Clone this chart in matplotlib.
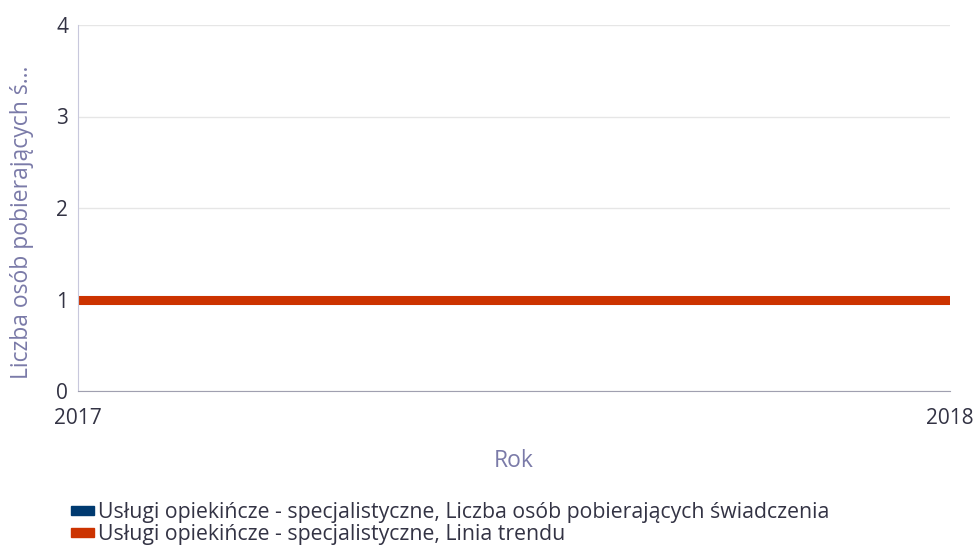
import matplotlib
matplotlib.use("Agg")
import matplotlib.pyplot as plt
from matplotlib.patches import Patch

lata = [2017, 2018]
liczba_osob = [1, 1]
trend = [1, 1]
nazwy = ["Usługi opiekińcze - specjalistyczne, Liczba osób pobierających świadczenia",
         "Usługi opiekińcze - specjalistyczne, Linia trendu"]
kolory = ["#003a70", "#cc3300"]

plt.rcParams['font.family'] = ['Open Sans', 'DejaVu Sans']

fig = plt.figure(figsize=(9.73, 5.48), dpi=100)
ax = fig.add_axes([78/973, 1-391/548, (950-78)/973, (391-25)/548])

ax.plot(lata, liczba_osob, color=kolory[0], lw=6.5, solid_capstyle='butt')
ax.plot(lata, trend, color=kolory[1], lw=6.5, solid_capstyle='butt')

ax.set_xlim(2017, 2018)
ax.set_ylim(0, 4)
ax.set_xticks(lata)
ax.set_yticks([0, 1, 2, 3, 4])
ax.grid(axis='y', color='#e6e6e6', lw=1)
ax.set_axisbelow(True)
for s in ['top', 'right']:
    ax.spines[s].set_visible(False)
ax.spines['left'].set_color('#c8c8dc')
ax.spines['bottom'].set_color('#a0a0b0')
ax.tick_params(length=0, labelsize=15, labelcolor='#333344')
ax.tick_params(axis='y', pad=7)
ax.tick_params(axis='x', pad=12)

# etykiety osi jako zwykly tekst figury
fig.text(22/973, 1-222/548, "Liczba osób pobierających ś...", rotation=90,
         ha='center', va='center', fontsize=16.5, color='#7a7aa8')
fig.text(514/973, 1-461/548, "Rok", ha='center', va='center',
         fontsize=16.5, color='#7a7aa8')

uchwyty = [Patch(color=k) for k in kolory]
fig.legend(uchwyty, nazwy, loc='upper left', bbox_to_anchor=(56/973, 1-487/548),
           frameon=False, handlelength=1.1, handleheight=0.3,
           handletextpad=0.18, labelspacing=0.05, labelcolor='#333344',
           prop={'size': 15.3}, borderpad=0.2)

fig.savefig("out.png", dpi=100)
